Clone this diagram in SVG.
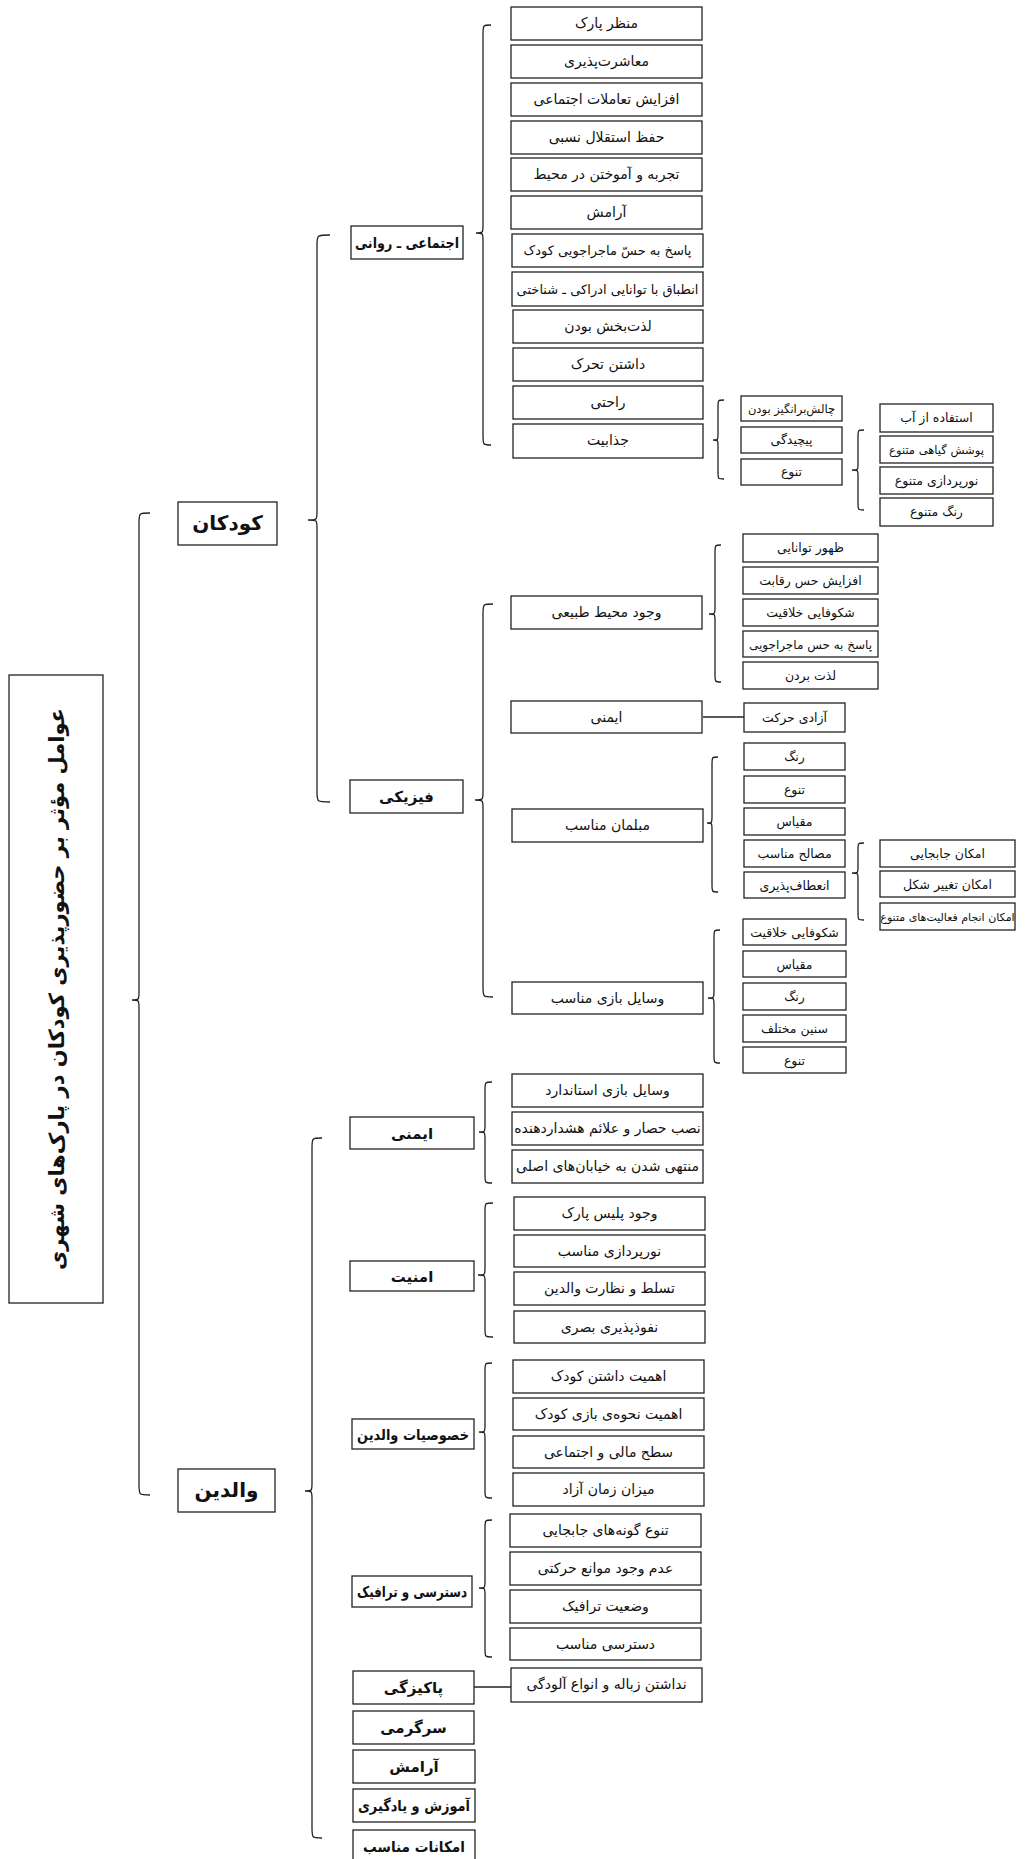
<svg xmlns="http://www.w3.org/2000/svg" width="1025" height="1859" viewBox="0 0 1025 1859">
<style>
.b{fill:#fff;stroke:#222;stroke-width:1.3}
.t{font-family:'DejaVu Sans',sans-serif;font-size:14px;text-anchor:middle;direction:rtl;fill:#111}
.s{font-size:12.5px}
.tb{font-weight:bold;font-size:15px}
.tl{font-weight:bold;font-size:20px}
.tt{font-weight:bold;font-size:21px}
.br{fill:none;stroke:#222;stroke-width:1.3}
.ln{stroke:#222;stroke-width:1.3}
</style>
<rect width="1025" height="1859" fill="#fff"/>
<g id="connectors">
<path class="br" d="M150,513 C139,513 139,513 139,523 L139,992 C139,1000 139,1000 132,1000 C139,1000 139,1000 139,1008 L139,1485 C139,1495 139,1495 150,1495"/>
<path class="br" d="M330,235 C317,235 317,235 317,245 L317,512 C317,520 317,520 308,520 C317,520 317,520 317,528 L317,792 C317,802 317,802 330,802"/>
<path class="br" d="M322,1138 C312,1138 312,1138 312,1148 L312,1483 C312,1491 312,1491 305,1491 C312,1491 312,1491 312,1499 L312,1828 C312,1838 312,1838 322,1838"/>
<path class="br" d="M491,25 C483,25 483,25 483,35 L483,225 C483,233 483,233 476,233 C483,233 483,233 483,241 L483,435 C483,445 483,445 491,445"/>
<path class="br" d="M493,604 C483,604 483,604 483,614 L483,792 C483,800 483,800 475,800 C483,800 483,800 483,808 L483,987 C483,997 483,997 493,997"/>
<path class="br" d="M724,400 C718,400 718,400 718,407 L718,434 C718,440 718,440 713,440 C718,440 718,440 718,446 L718,472 C718,479 718,479 724,479"/>
<path class="br" d="M864,430 C858,430 858,430 858,437 L858,464 C858,470 858,470 852,470 C858,470 858,470 858,476 L858,503 C858,510 858,510 864,510"/>
<path class="br" d="M721,545 C715,545 715,545 715,553 L715,607 C715,614 715,614 709,614 C715,614 715,614 715,621 L715,674 C715,682 715,682 721,682"/>
<path class="br" d="M718,757 C712,757 712,757 712,765 L712,816 C712,823 712,823 707,823 C712,823 712,823 712,830 L712,884 C712,892 712,892 718,892"/>
<path class="br" d="M864,843 C858,843 858,843 858,850 L858,867 C858,873 858,873 852,873 C858,873 858,873 858,879 L858,913 C858,920 858,920 864,920"/>
<path class="br" d="M720,930 C714,930 714,930 714,938 L714,991 C714,998 714,998 708,998 C714,998 714,998 714,1005 L714,1055 C714,1063 714,1063 720,1063"/>
<path class="br" d="M492,1082 C485,1082 485,1082 485,1090 L485,1125 C485,1132 485,1132 479,1132 C485,1132 485,1132 485,1139 L485,1175 C485,1183 485,1183 492,1183"/>
<path class="br" d="M493,1203 C485,1203 485,1203 485,1211 L485,1268 C485,1275 485,1275 478,1275 C485,1275 485,1275 485,1282 L485,1329 C485,1337 485,1337 493,1337"/>
<path class="br" d="M492,1363 C485,1363 485,1363 485,1371 L485,1425 C485,1432 485,1432 479,1432 C485,1432 485,1432 485,1439 L485,1490 C485,1498 485,1498 492,1498"/>
<path class="br" d="M492,1520 C485,1520 485,1520 485,1528 L485,1581 C485,1588 485,1588 479,1588 C485,1588 485,1588 485,1595 L485,1649 C485,1657 485,1657 492,1657"/>
<line class="ln" x1="703" y1="717" x2="744" y2="717"/>
<line class="ln" x1="474" y1="1687" x2="511" y2="1687"/>
</g>
<g id="title"><rect class="b" x="9" y="675" width="94" height="628"/><text class="t tt" transform="translate(64,989) rotate(-90)">عوامل مؤثر بر حضورپذیری کودکان در پارک‌های شهری</text></g>
<g id="kodakan"><rect class="b" x="178" y="502" width="99" height="43"/><text class="t tl" x="227.5" y="530">کودکان</text></g>
<g id="valedin"><rect class="b" x="178" y="1469" width="97" height="43"/><text class="t tl" x="226.5" y="1497">والدین</text></g>
<g id="ejtemai"><rect class="b" x="351" y="226" width="112" height="33"/><text class="t tb" x="407" y="248" textLength="104" lengthAdjust="spacingAndGlyphs">اجتماعی ـ روانی</text></g>
<g id="fiziki"><rect class="b" x="350" y="780" width="113" height="33"/><text class="t tb" x="406.5" y="802">فیزیکی</text></g>
<g id="imeni-p"><rect class="b" x="350" y="1117" width="124" height="32"/><text class="t tb" x="412" y="1139">ایمنی</text></g>
<g id="amniat"><rect class="b" x="350" y="1261" width="124" height="30"/><text class="t tb" x="412" y="1282">امنیت</text></g>
<g id="khosusiat"><rect class="b" x="352" y="1419" width="122" height="30"/><text class="t tb" x="413" y="1440" textLength="112" lengthAdjust="spacingAndGlyphs">خصوصیات والدین</text></g>
<g id="dastresi"><rect class="b" x="352" y="1576" width="120" height="31"/><text class="t tb" x="412" y="1597" textLength="110" lengthAdjust="spacingAndGlyphs">دسترسی و ترافیک</text></g>
<g id="pakizegi"><rect class="b" x="353" y="1671" width="121" height="33"/><text class="t tb" x="413.5" y="1693">پاکیزگی</text></g>
<g id="sargarmi"><rect class="b" x="353" y="1711" width="121" height="33"/><text class="t tb" x="413.5" y="1733">سرگرمی</text></g>
<g id="aramesh-p"><rect class="b" x="353" y="1750" width="122" height="33"/><text class="t tb" x="414" y="1772">آرامش</text></g>
<g id="amuzesh"><rect class="b" x="353" y="1789" width="122" height="33"/><text class="t tb" x="414" y="1811" textLength="112" lengthAdjust="spacingAndGlyphs">آموزش و یادگیری</text></g>
<g id="emkanat"><rect class="b" x="353" y="1830" width="122" height="35"/><text class="t tb" x="414" y="1852" textLength="102" lengthAdjust="spacingAndGlyphs">امکانات مناسب</text></g>
<g id="s1"><rect class="b" x="511" y="7" width="191" height="33"/><text class="t" x="606.5" y="28">منظر پارک</text></g>
<g id="s2"><rect class="b" x="511" y="45" width="191" height="33"/><text class="t" x="606.5" y="66">معاشرت‌پذیری</text></g>
<g id="s3"><rect class="b" x="511" y="83" width="191" height="33"/><text class="t" x="606.5" y="104">افزایش تعاملات اجتماعی</text></g>
<g id="s4"><rect class="b" x="511" y="121" width="191" height="33"/><text class="t" x="606.5" y="142">حفظ استقلال نسبی</text></g>
<g id="s5"><rect class="b" x="511" y="158" width="191" height="33"/><text class="t" x="606.5" y="179">تجربه و آموختن در محیط</text></g>
<g id="s6"><rect class="b" x="511" y="196" width="191" height="33"/><text class="t" x="606.5" y="217">آرامش</text></g>
<g id="s7"><rect class="b" x="512" y="234" width="191" height="33"/><text class="t" x="607.5" y="255" style="font-size:13px">پاسخ به حسّ ماجراجویی کودک</text></g>
<g id="s8"><rect class="b" x="512" y="272" width="191" height="34"/><text class="t" x="607.5" y="294" style="font-size:13px">انطباق با توانایی ادراکی ـ شناختی</text></g>
<g id="s9"><rect class="b" x="513" y="310" width="190" height="33"/><text class="t" x="608" y="331">لذت‌بخش بودن</text></g>
<g id="s10"><rect class="b" x="513" y="348" width="190" height="33"/><text class="t" x="608" y="369">داشتن تحرک</text></g>
<g id="s11"><rect class="b" x="513" y="386" width="190" height="33"/><text class="t" x="608" y="407">راحتی</text></g>
<g id="s12"><rect class="b" x="513" y="424" width="190" height="34"/><text class="t" x="608" y="445">جذابیت</text></g>
<g id="j1"><rect class="b" x="741" y="396" width="101" height="25"/><text class="t s" x="791.5" y="413" style="font-size:11.5px">چالش‌برانگیز بودن</text></g>
<g id="j2"><rect class="b" x="741" y="427" width="101" height="26"/><text class="t s" x="791.5" y="444">پیچیدگی</text></g>
<g id="j3"><rect class="b" x="741" y="459" width="101" height="26"/><text class="t s" x="791.5" y="476">تنوع</text></g>
<g id="v1"><rect class="b" x="880" y="404" width="113" height="28"/><text class="t s" x="936.5" y="422">استفاده از آب</text></g>
<g id="v2"><rect class="b" x="880" y="436" width="113" height="27"/><text class="t s" x="936.5" y="454" style="font-size:11.5px">پوشش گیاهی متنوع</text></g>
<g id="v3"><rect class="b" x="880" y="467" width="113" height="27"/><text class="t s" x="936.5" y="485">نورپردازی متنوع</text></g>
<g id="v4"><rect class="b" x="880" y="498" width="113" height="28"/><text class="t s" x="936.5" y="516">رنگ متنوع</text></g>
<g id="p1"><rect class="b" x="511" y="596" width="191" height="33"/><text class="t" x="606.5" y="617">وجود محیط طبیعی</text></g>
<g id="p2"><rect class="b" x="511" y="701" width="191" height="32"/><text class="t" x="606.5" y="722">ایمنی</text></g>
<g id="p3"><rect class="b" x="512" y="809" width="191" height="33"/><text class="t" x="607.5" y="830">مبلمان مناسب</text></g>
<g id="p4"><rect class="b" x="512" y="982" width="191" height="32"/><text class="t" x="607.5" y="1003">وسایل بازی مناسب</text></g>
<g id="n1"><rect class="b" x="743" y="534" width="135" height="28"/><text class="t s" x="810.5" y="552">ظهور توانایی</text></g>
<g id="n2"><rect class="b" x="743" y="567" width="135" height="27"/><text class="t s" x="810.5" y="585">افزایش حس رقابت</text></g>
<g id="n3"><rect class="b" x="743" y="599" width="135" height="27"/><text class="t s" x="810.5" y="617">شکوفایی خلاقیت</text></g>
<g id="n4"><rect class="b" x="743" y="631" width="135" height="26"/><text class="t s" x="810.5" y="649" style="font-size:12px">پاسخ به حس ماجراجویی</text></g>
<g id="n5"><rect class="b" x="743" y="662" width="135" height="27"/><text class="t s" x="810.5" y="680">لذت بردن</text></g>
<g id="azadi"><rect class="b" x="744" y="703" width="101" height="29"/><text class="t s" x="794.5" y="722">آزادی حرکت</text></g>
<g id="m1"><rect class="b" x="744" y="743" width="101" height="27"/><text class="t s" x="794.5" y="761">رنگ</text></g>
<g id="m2"><rect class="b" x="744" y="776" width="101" height="27"/><text class="t s" x="794.5" y="794">تنوع</text></g>
<g id="m3"><rect class="b" x="744" y="808" width="101" height="27"/><text class="t s" x="794.5" y="826">مقیاس</text></g>
<g id="m4"><rect class="b" x="744" y="840" width="101" height="27"/><text class="t s" x="794.5" y="858">مصالح مناسب</text></g>
<g id="m5"><rect class="b" x="744" y="872" width="101" height="26"/><text class="t s" x="794.5" y="890">انعطاف‌پذیری</text></g>
<g id="e1"><rect class="b" x="880" y="840" width="135" height="27"/><text class="t s" x="947.5" y="858">امکان جابجایی</text></g>
<g id="e2"><rect class="b" x="880" y="871" width="135" height="26"/><text class="t s" x="947.5" y="889">امکان تغییر شکل</text></g>
<g id="e3"><rect class="b" x="880" y="903" width="135" height="27"/><text class="t" x="947.5" y="921" style="font-size:11px">امکان انجام فعالیت‌های متنوع</text></g>
<g id="w1"><rect class="b" x="743" y="919" width="103" height="26"/><text class="t s" x="794.5" y="937">شکوفایی خلاقیت</text></g>
<g id="w2"><rect class="b" x="743" y="951" width="103" height="26"/><text class="t s" x="794.5" y="969">مقیاس</text></g>
<g id="w3"><rect class="b" x="743" y="983" width="103" height="27"/><text class="t s" x="794.5" y="1001">رنگ</text></g>
<g id="w4"><rect class="b" x="743" y="1015" width="103" height="27"/><text class="t s" x="794.5" y="1033">سنین مختلف</text></g>
<g id="w5"><rect class="b" x="743" y="1047" width="103" height="26"/><text class="t s" x="794.5" y="1065">تنوع</text></g>
<g id="i1"><rect class="b" x="512" y="1074" width="191" height="33"/><text class="t" x="607.5" y="1095">وسایل بازی استاندارد</text></g>
<g id="i2"><rect class="b" x="512" y="1112" width="191" height="33"/><text class="t" x="607.5" y="1133">نصب حصار و علائم هشداردهنده</text></g>
<g id="i3"><rect class="b" x="512" y="1150" width="191" height="33"/><text class="t" x="607.5" y="1171">منتهی شدن به خیابان‌های اصلی</text></g>
<g id="a1"><rect class="b" x="514" y="1197" width="191" height="33"/><text class="t" x="609.5" y="1218">وجود پلیس پارک</text></g>
<g id="a2"><rect class="b" x="514" y="1235" width="191" height="32"/><text class="t" x="609.5" y="1256">نورپردازی مناسب</text></g>
<g id="a3"><rect class="b" x="514" y="1272" width="191" height="33"/><text class="t" x="609.5" y="1293">تسلط و نظارت والدین</text></g>
<g id="a4"><rect class="b" x="514" y="1311" width="191" height="32"/><text class="t" x="609.5" y="1332">نفوذپذیری بصری</text></g>
<g id="k1"><rect class="b" x="513" y="1360" width="191" height="33"/><text class="t" x="608.5" y="1381">اهمیت داشتن کودک</text></g>
<g id="k2"><rect class="b" x="513" y="1398" width="191" height="32"/><text class="t" x="608.5" y="1419">اهمیت نحوه‌ی بازی کودک</text></g>
<g id="k3"><rect class="b" x="513" y="1436" width="191" height="32"/><text class="t" x="608.5" y="1457">سطح مالی و اجتماعی</text></g>
<g id="k4"><rect class="b" x="513" y="1473" width="191" height="33"/><text class="t" x="608.5" y="1494">میزان زمان آزاد</text></g>
<g id="d1"><rect class="b" x="510" y="1514" width="191" height="33"/><text class="t" x="605.5" y="1535">تنوع گونه‌های جابجایی</text></g>
<g id="d2"><rect class="b" x="510" y="1552" width="191" height="33"/><text class="t" x="605.5" y="1573">عدم وجود موانع حرکتی</text></g>
<g id="d3"><rect class="b" x="510" y="1590" width="191" height="33"/><text class="t" x="605.5" y="1611">وضعیت ترافیک</text></g>
<g id="d4"><rect class="b" x="510" y="1628" width="191" height="32"/><text class="t" x="605.5" y="1649">دسترسی مناسب</text></g>
<g id="z1"><rect class="b" x="511" y="1668" width="191" height="34"/><text class="t" x="606.5" y="1689">نداشتن زباله و انواع آلودگی</text></g>
</svg>
